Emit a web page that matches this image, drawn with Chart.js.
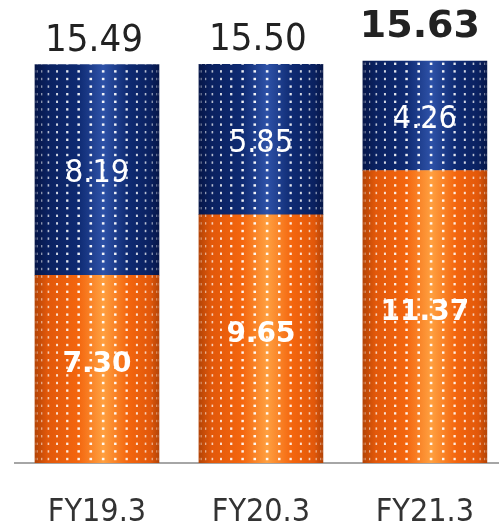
<!DOCTYPE html>
<html lang="ja">
<head>
  <meta charset="UTF-8">
  <title>FY results</title>
  <style>
    html, body {
      margin: 0;
      padding: 0;
      background: #ffffff;
    }
    #wrap {
      width: 504px;
      height: 522px;
    }
  </style>
</head>
<body>
  <div id="wrap"><canvas id="barChart"></canvas></div>

  <script src="https://cdn.jsdelivr.net/npm/chart.js"></script>
  <script>
    const categories = ['FY19.3', 'FY20.3', 'FY21.3'];
    const orangeValues = [7.30, 9.65, 11.37];
    const navyValues = [8.19, 5.85, 4.26];
    const boldTotal = [false, false, true];

    const REG_FONT = '"DejaVu Sans Condensed", "DejaVu Sans", sans-serif';
    const BOLD_FONT = '"DejaVu Sans", sans-serif';
    const BAR_W = 124;

    // cylinder-style shading across the bar width
    function shade(stops) {
      return function(context) {
        const chart = context.chart;
        if (!chart.chartArea || !chart.scales.x) return stops[2];
        const cx = chart.scales.x.getPixelForValue(context.dataIndex);
        const g = chart.ctx.createLinearGradient(cx - BAR_W / 2, 0, cx + BAR_W / 2, 0);
        g.addColorStop(0, stops[0]);
        g.addColorStop(0.1, stops[1]);
        g.addColorStop(0.35, stops[2]);
        g.addColorStop(0.55, stops[3]);
        g.addColorStop(0.75, stops[2]);
        g.addColorStop(0.93, stops[1]);
        g.addColorStop(1, stops[0]);
        return g;
      };
    }

    const orangeShade = shade(['#b44406', '#e2580a', '#f4660e', '#ffa040']);
    const navyShade = shade(['#061648', '#0a2160', '#0e2a72', '#2e52a8']);

    // white dot texture wrapped around each bar
    const dotTexture = {
      id: 'dotTexture',
      afterDatasetsDraw(chart) {
        const ctx = chart.ctx;
        const bottom = chart.chartArea.bottom;
        chart.data.datasets.forEach((ds, di) => {
          chart.getDatasetMeta(di).data.forEach(el => {
            const p = el.getProps(['x', 'y', 'base', 'width'], true);
            const top = Math.min(p.y, p.base);
            const h = Math.abs(p.base - p.y);
            const r = p.width / 2;
            ctx.save();
            ctx.beginPath();
            ctx.rect(p.x - r, top, p.width, h);
            ctx.clip();
            const step = 0.2;
            for (let k = -8; k < 8; k++) {
              const th = (k + 0.5) * step;
              if (Math.abs(th) > Math.PI / 2) continue;
              const dx = p.x + r * Math.sin(th);
              const a = 0.95 * Math.pow(Math.cos(th), 0.6);
              ctx.fillStyle = 'rgba(255,255,255,' + a.toFixed(3) + ')';
              const dw = Math.max(1.2, 2.6 * Math.cos(th));
              for (let y = bottom - 4; y > top - 8; y -= 7.6) {
                ctx.fillRect(dx - dw / 2, y - 1.2, dw, 2.4);
              }
            }
            ctx.restore();
          });
        });
      }
    };

    // value labels inside segments and totals above bars
    const valueLabels = {
      id: 'valueLabels',
      afterDatasetsDraw(chart) {
        const ctx = chart.ctx;
        const lower = chart.getDatasetMeta(0).data;
        const upper = chart.getDatasetMeta(1).data;
        ctx.save();
        ctx.textAlign = 'center';
        ctx.textBaseline = 'middle';
        lower.forEach((el, i) => {
          const p = el.getProps(['x', 'y', 'base'], true);
          ctx.fillStyle = '#ffffff';
          ctx.font = 'bold 28px ' + BOLD_FONT;
          ctx.fillText(orangeValues[i].toFixed(2), p.x, (p.y + p.base) / 2 - 4);
        });
        upper.forEach((el, i) => {
          const p = el.getProps(['x', 'y', 'base'], true);
          ctx.fillStyle = '#ffffff';
          ctx.font = '32px ' + REG_FONT;
          ctx.fillText(navyValues[i].toFixed(2), p.x, (p.y + p.base) / 2 + 4);

          const total = (orangeValues[i] + navyValues[i]).toFixed(2);
          ctx.fillStyle = '#222222';
          ctx.textBaseline = 'alphabetic';
          if (boldTotal[i]) {
            ctx.font = 'bold 38px ' + BOLD_FONT;
            ctx.fillText(total, p.x - 5, p.y - 24);
          } else {
            ctx.font = '38px ' + REG_FONT;
            ctx.fillText(total, p.x - 3, p.y - 14);
          }
          ctx.textBaseline = 'middle';
        });
        ctx.restore();
      }
    };

    const ctx = document.getElementById('barChart').getContext('2d');
    new Chart(ctx, {
      type: 'bar',
      data: {
        datasets: [{
          data: orangeValues.map((v, i) => ({ x: i, y: v })),
          backgroundColor: orangeShade,
          borderWidth: 0,
          barThickness: BAR_W
        }, {
          data: navyValues.map((v, i) => ({ x: i, y: v })),
          backgroundColor: navyShade,
          borderWidth: 0,
          barThickness: BAR_W
        }]
      },
      options: {
        responsive: true,
        maintainAspectRatio: false,
        animation: false,
        layout: { padding: { left: 15, right: 0, top: 0, bottom: 0 } },
        plugins: {
          legend: { display: false },
          tooltip: { enabled: false }
        },
        scales: {
          x: {
            type: 'linear',
            stacked: true,
            min: -0.5,
            max: 2.45,
            offset: false,
            grid: { display: false, drawTicks: false },
            border: { display: true, color: '#a6a6a6', width: 2 },
            afterFit(scale) { scale.height = 59; },
            ticks: {
              stepSize: 1,
              includeBounds: false,
              maxRotation: 0,
              autoSkip: false,
              padding: 30,
              color: '#333333',
              font: { family: REG_FONT, size: 32 },
              callback: v => (Number.isInteger(v) && categories[v]) || ''
            }
          },
          y: {
            display: false,
            stacked: true,
            min: 0,
            max: 18
          }
        }
      },
      plugins: [dotTexture, valueLabels]
    });
  </script>
</body>
</html>
